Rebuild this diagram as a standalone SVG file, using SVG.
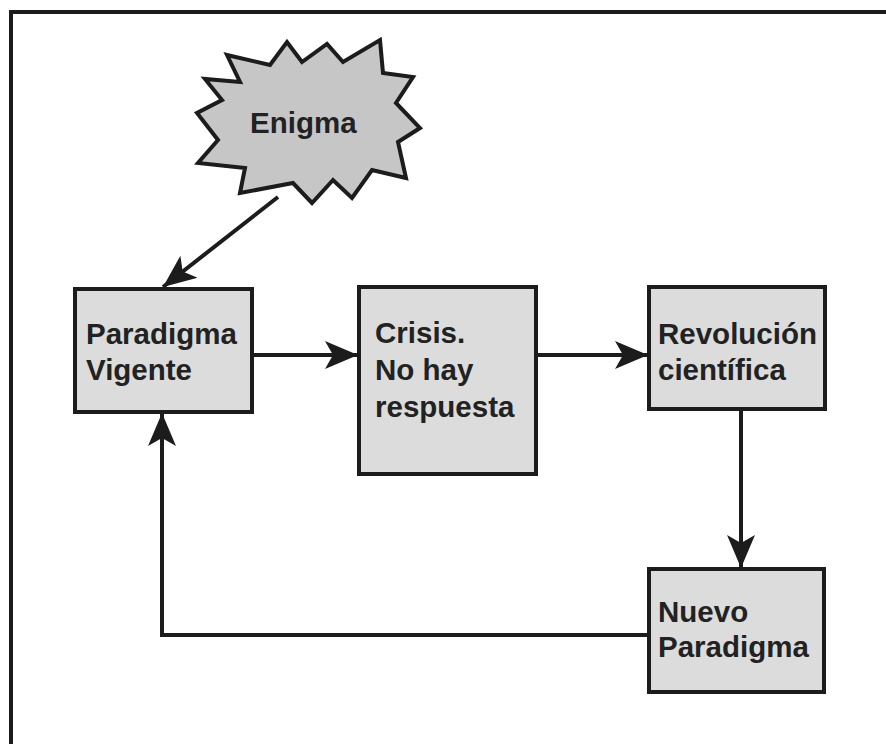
<svg xmlns="http://www.w3.org/2000/svg" width="886" height="744" viewBox="0 0 886 744">
<style>
.box{fill:#dcdcdc;stroke:#1c1c1c;stroke-width:4}
.star{fill:#c6c6c6;stroke:#1c1c1c;stroke-width:4;stroke-linejoin:miter}
.lbl{font-family:"Liberation Sans",Arial,sans-serif;font-weight:bold;font-size:29.5px;fill:#222}
.con{fill:none;stroke:#1c1c1c;stroke-width:4}
</style>
<defs>
<marker id="ah" markerUnits="userSpaceOnUse" markerWidth="34" markerHeight="30" viewBox="0 0 34 30" refX="33" refY="15" orient="auto">
<path d="M0,1 L33,15 L0,29 L8,15 z" fill="#1c1c1c"/>
</marker>
</defs>
<rect x="0" y="0" width="886" height="744" fill="#fff"/>
<rect x="11" y="12" width="890" height="750" fill="none" stroke="#1c1c1c" stroke-width="4"/>
<g id="connectors">
<line class="con" x1="278" y1="197" x2="163" y2="287" marker-end="url(#ah)"/>
<line class="con" x1="253" y1="355" x2="358" y2="355" marker-end="url(#ah)"/>
<line class="con" x1="537" y1="355" x2="648" y2="355" marker-end="url(#ah)"/>
<line class="con" x1="741" y1="410" x2="741" y2="568" marker-end="url(#ah)"/>
<polyline class="con" points="648,635 162,635 162,413" marker-end="url(#ah)"/>
</g>
<g id="enigma">
<polygon class="star" points="227,55 270,65 287,42 302,62 327,44 343,62 380,40 383,73 413,77 396,103 420,128 398,142 406,178 372,170 352,198 333,180 312,203 293,183 240,193 245,168 198,163 218,140 197,113 222,100 205,79 240,82"/>
<text class="lbl" x="250" y="133">Enigma</text>
</g>
<g id="paradigma-vigente">
<rect class="box" x="75" y="289" width="177" height="123"/>
<text class="lbl" x="86" y="344">Paradigma</text>
<text class="lbl" x="86" y="380">Vigente</text>
</g>
<g id="crisis">
<rect class="box" x="359" y="287" width="177" height="187"/>
<text class="lbl" x="375" y="343">Crisis.</text>
<text class="lbl" x="375" y="380">No hay</text>
<text class="lbl" x="375" y="417">respuesta</text>
</g>
<g id="revolucion">
<rect class="box" x="649" y="287" width="176" height="122"/>
<text class="lbl" x="658" y="344">Revolución</text>
<text class="lbl" x="658" y="380">científica</text>
</g>
<g id="nuevo-paradigma">
<rect class="box" x="649" y="569" width="175" height="123"/>
<text class="lbl" x="658" y="622">Nuevo</text>
<text class="lbl" x="658" y="657">Paradigma</text>
</g>
</svg>
